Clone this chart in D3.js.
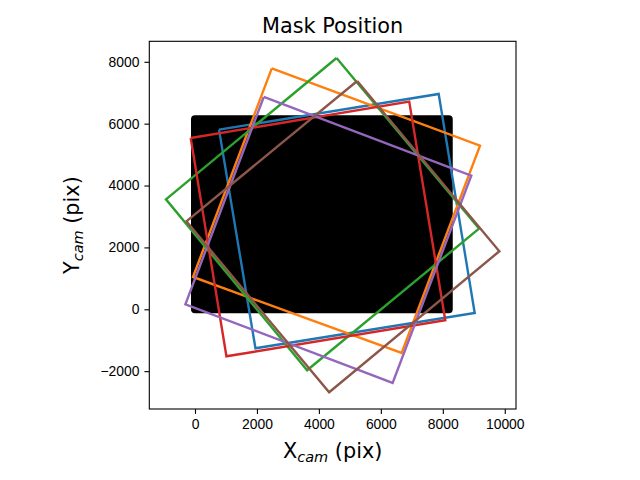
<!DOCTYPE html>
<html lang="en">
<head>
  <meta charset="UTF-8">
  <title>Mask Position</title>
  <script src="https://d3js.org/d3.v7.min.js"></script>
  <style>
    body { margin: 0; background: #fff; }
    svg { font-family: "DejaVu Sans", sans-serif; }
    .tick text { font-size: 13.9px; fill: #000; }
    .tick line { stroke: #000; stroke-width: 1.1px; }
    .domain { display: none; }
  </style>
</head>
<body>
  <div id="chart"></div>
  <script>
    // detector outline (camera pixels)
    const detector = { x0: 0, y0: 0, x1: 8192, y1: 6144 };

    // mask corners, one rotated square per pointing
    const maskNames = ["m1", "m2", "m3", "m4", "m5", "m6"];
    const maskCorners = [
      [[776, 5808], [7867, 6959], [9030, -120], [1952, -1260]],
      [[2479, 7789], [9201, 5291], [6671, -1412], [-65, 1044]],
      [[4570, 8122], [9169, 2608], [3620, -1972], [-937, 3555]],
      [[-139, 5537], [6916, 6713], [8080, -356], [1015, -1519]],
      [[2220, 6862], [8920, 4321], [6380, -2382], [-310, 162]],
      [[5236, 7379], [9825, 1875], [4331, -2683], [-278, 2844]]
    ];
    const maskColors = ["#1f77b4", "#ff7f0e", "#2ca02c", "#d62728", "#9467bd", "#8c564b"];

    const xTicks = [0, 2000, 4000, 6000, 8000, 10000];
    const yTicks = [-2000, 0, 2000, 4000, 6000, 8000];

    const width = 640, height = 480;
    const margin = { left: 149.3, right: 124, top: 41.3, bottom: 71 };

    const svg = d3.select("#chart").append("svg")
      .attr("width", width)
      .attr("height", height);

    // domain = data extent + 5% padding like matplotlib
    const allPts = maskCorners.flat();
    const xExt = d3.extent(allPts, d => d[0]);
    const yExt = d3.extent(allPts, d => d[1]);
    const xPad = (xExt[1] - xExt[0]) * 0.05;
    const yPad = (yExt[1] - yExt[0]) * 0.05;

    const x = d3.scaleLinear()
      .domain([xExt[0] - xPad, xExt[1] + xPad])
      .range([margin.left, width - margin.right]);
    const y = d3.scaleLinear()
      .domain([yExt[0] - yPad, yExt[1] + yPad])
      .range([height - margin.bottom, margin.top]);

    const plot = svg.append("g");

    // clip to axes
    svg.append("clipPath").attr("id", "clip")
      .append("rect")
      .attr("x", x.range()[0]).attr("y", y.range()[1])
      .attr("width", x.range()[1] - x.range()[0])
      .attr("height", y.range()[0] - y.range()[1]);

    const inner = plot.append("g").attr("clip-path", "url(#clip)");

    // detector area
    inner.append("rect")
      .attr("x", x(detector.x0))
      .attr("y", y(detector.y1))
      .attr("width", x(detector.x1) - x(detector.x0))
      .attr("height", y(detector.y0) - y(detector.y1))
      .attr("fill", "#000")
      .attr("stroke", "#000")
      .attr("stroke-width", 8)
      .attr("stroke-linejoin", "round");

    const line = d3.line().x(d => x(d[0])).y(d => y(d[1]));

    inner.selectAll("path.mask")
      .data(maskCorners)
      .enter()
      .append("path")
      .attr("class", "mask")
      .attr("d", d => line(d.concat([d[0]])))
      .attr("fill", "none")
      .attr("stroke", (d, i) => maskColors[i])
      .attr("stroke-width", 2.4)
      .attr("stroke-linejoin", "miter");

    // axes
    plot.append("g")
      .attr("transform", `translate(0,${y.range()[0]})`)
      .call(d3.axisBottom(x).tickValues(xTicks).tickSize(4.9).tickPadding(4.9).tickFormat(d3.format("d")));

    plot.append("g")
      .attr("transform", `translate(${x.range()[0]},0)`)
      .call(d3.axisLeft(y).tickValues(yTicks).tickSize(4.9).tickPadding(4.9)
        .tickFormat(d => d < 0 ? "\u2212" + Math.abs(d) : d));

    // frame
    plot.append("rect")
      .attr("x", x.range()[0]).attr("y", y.range()[1])
      .attr("width", x.range()[1] - x.range()[0])
      .attr("height", y.range()[0] - y.range()[1])
      .attr("fill", "none")
      .attr("stroke", "#000")
      .attr("stroke-width", 1.1);

    const cx = (x.range()[0] + x.range()[1]) / 2;
    const cy = (y.range()[0] + y.range()[1]) / 2;

    svg.append("text")
      .attr("x", cx).attr("y", 33)
      .attr("text-anchor", "middle")
      .attr("font-size", 20.8)
      .text("Mask Position");

    const xl = svg.append("text")
      .attr("x", cx).attr("y", 458)
      .attr("text-anchor", "middle")
      .attr("font-size", 20.8);
    xl.append("tspan").text("X");
    xl.append("tspan").attr("font-style", "italic").attr("font-size", 14.5).attr("dy", 4).text("cam");
    xl.append("tspan").attr("dy", -4).text(" (pix)");

    const yl = svg.append("text")
      .attr("transform", `translate(79,${cy}) rotate(-90)`)
      .attr("text-anchor", "middle")
      .attr("font-size", 20.8);
    yl.append("tspan").text("Y");
    yl.append("tspan").attr("font-style", "italic").attr("font-size", 14.5).attr("dy", 4).text("cam");
    yl.append("tspan").attr("dy", -4).text(" (pix)");
  </script>
</body>
</html>
